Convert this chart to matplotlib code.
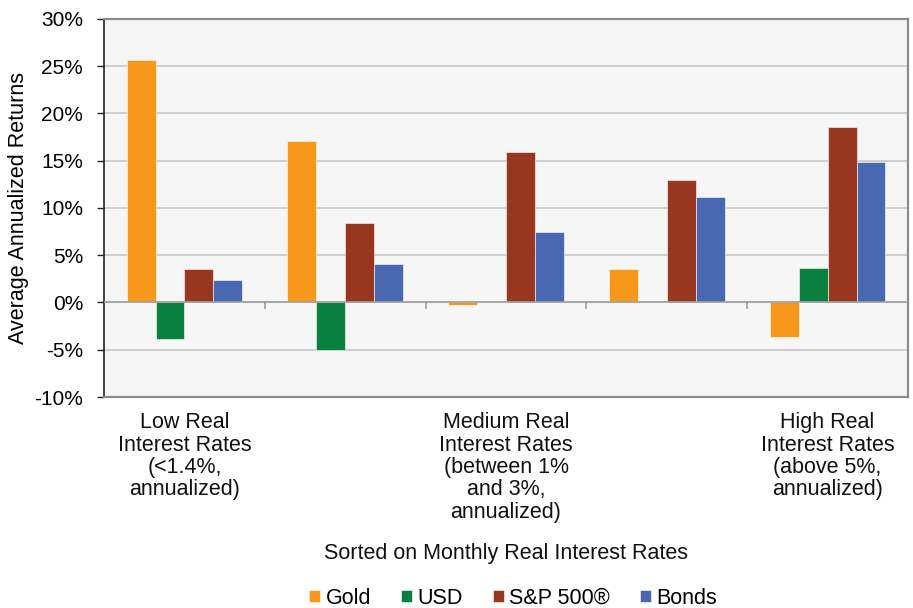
import matplotlib.pyplot as plt
import numpy as np
from matplotlib.ticker import FuncFormatter

plt.rcParams['font.family'] = ['Liberation Sans', 'DejaVu Sans']

series = ['Gold', 'USD', 'S&P 500®', 'Bonds']
gold = [25.6, 17.1, -0.3, 3.5, -3.6]
usd = [-3.9, -5.0, 0.05, 0.05, 3.6]
sp500 = [3.5, 8.4, 15.9, 13.0, 18.6]
bonds = [2.4, 4.1, 7.5, 11.2, 14.9]
group_labels = ['Low Real\nInterest Rates\n(<1.4%,\nannualized)', '',
                'Medium Real\nInterest Rates\n(between 1%\nand 3%,\nannualized)', '',
                'High Real\nInterest Rates\n(above 5%,\nannualized)']
colors = ['#F7981D', '#0A8040', '#983620', '#4A68B1']
fs = 15.5

fig = plt.figure(figsize=(9.13, 6.08), dpi=100)
ax = fig.add_axes([0.114, 0.347, 0.8805, 0.622])
ax.set_facecolor('#F5F6F5')

x = np.arange(len(gold))
w = 0.18
for i, (vals, c, name) in enumerate(zip([gold, usd, sp500, bonds], colors, series)):
    ax.bar(x + (i - 1.5) * w, vals, w, color=c, edgecolor='#ffffff', linewidth=0.4,
           label=name, zorder=3)

ax.set_xlim(-0.5, len(gold) - 0.5)
ax.set_ylim(-10, 30)
ax.set_yticks(np.arange(-10, 31, 5))
ax.yaxis.set_major_formatter(FuncFormatter(lambda v, p: '%d%%' % v))
ax.grid(axis='y', color='#C8C8C8', linewidth=1.2, zorder=0)
ax.axhline(0, color='#A0A0A0', linewidth=1.2, zorder=4)

for s in ['top', 'right', 'bottom']:
    ax.spines[s].set_color('#8C8C8C')
    ax.spines[s].set_linewidth(1.6)
ax.spines['left'].set_color('#222222')
ax.spines['left'].set_linewidth(1.2)

ax.tick_params(axis='y', direction='out', length=5, width=1, color='#222222',
               labelsize=fs - 0.5, pad=10)
# category boundary ticks hang below the zero line
ax.set_xticks([])
for b in np.arange(0.5, len(gold) - 1, 1):
    ax.plot([b, b], [0, -0.55], color='#9A9A9A', linewidth=1.2, zorder=4)

for xi, lab in zip(x, group_labels):
    if lab:
        ax.text(xi, -11.6, lab, ha='center', va='top', fontsize=fs,
                linespacing=1.09, color='#111111')

ax.set_ylabel('Average Annualized Returns', fontsize=fs)
ax.yaxis.set_label_coords(-0.093, 0.5)

ax.text(0.5, -0.413, 'Sorted on Monthly Real Interest Rates', transform=ax.transAxes,
        ha='center', va='center', fontsize=fs, color='#111111')

fig.legend(loc='center', bbox_to_anchor=(0.562, 0.016), ncol=4, frameon=False,
           fontsize=fs, handlelength=0.5, handleheight=0.5, handletextpad=0.25,
           columnspacing=1.4)

fig.savefig('out.png', dpi=100)
